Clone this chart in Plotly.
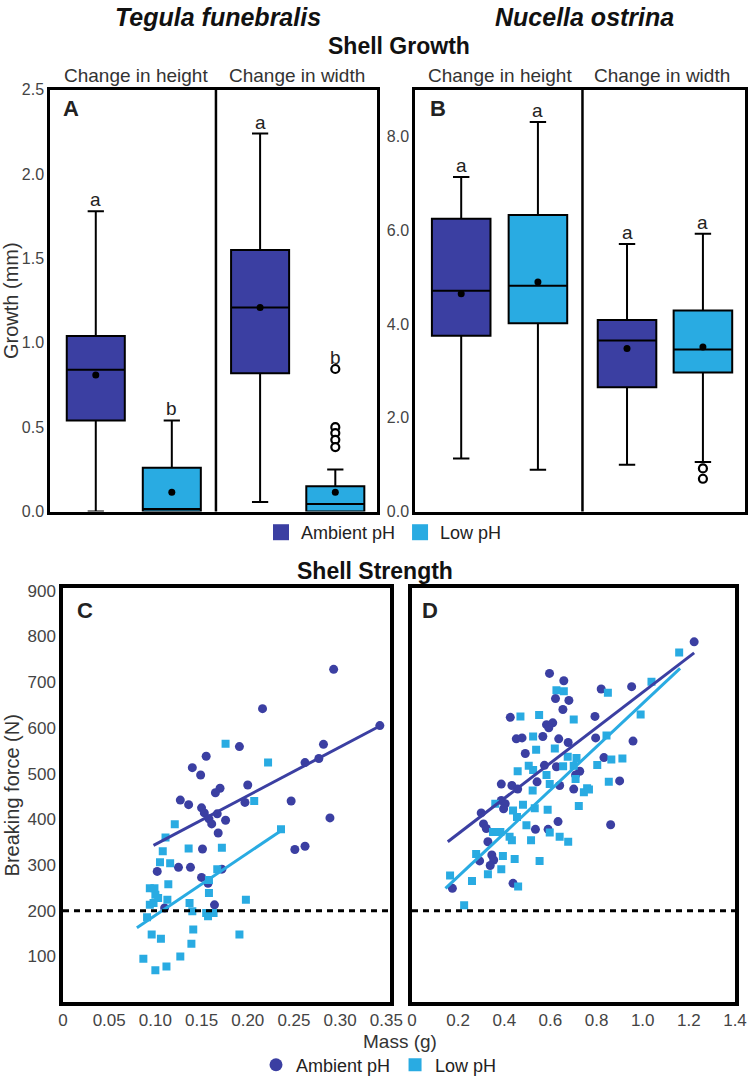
import plotly.graph_objects as go

FONT = "Liberation Sans, Arial, Helvetica, sans-serif"
DARK = "#3b3fa2"
LIGHT = "#29abe2"
TXT = "#333333"

W, H = 750, 1084

# ---------------- data ----------------
treatments = ["Ambient pH", "Low pH"]
measures = ["Change in height", "Change in width"]

# Panel A: Tegula funebralis growth (mm); order = height-ambient, height-low, width-ambient, width-low
tf_q1 = [0.54, 0.0, 0.82, 0.0]
tf_median = [0.84, 0.015, 1.21, 0.045]
tf_q3 = [1.04, 0.26, 1.55, 0.15]
tf_lower = [0.0, 0.0, 0.057, 0.0]
tf_upper = [1.78, 0.54, 2.24, 0.25]
tf_mean = [0.81, 0.114, 1.21, 0.114]
tf_letters = ["a", "b", "a", "b"]
tf_outliers_width_low = [0.845, 0.50, 0.465, 0.425, 0.382]

# Panel B: Nucella ostrina growth (mm)
no_q1 = [3.75, 4.02, 2.65, 2.97]
no_median = [4.71, 4.82, 3.65, 3.46]
no_q3 = [6.25, 6.33, 4.09, 4.29]
no_lower = [1.13, 0.89, 1.0, 1.06]
no_upper = [7.14, 8.31, 5.71, 5.93]
no_mean = [4.65, 4.90, 3.48, 3.51]
no_letters = ["a", "a", "a", "a"]
no_outliers_width_low = [0.92, 0.70]

# Panel C: Tegula funebralis breaking force (N) vs mass (g)
tf_amb_mass = [0.293, 0.216, 0.343, 0.191, 0.282, 0.155, 0.140, 0.149, 0.262, 0.277,
               0.200, 0.170, 0.165, 0.127, 0.136, 0.150, 0.153, 0.197, 0.247, 0.289,
               0.158, 0.161, 0.167, 0.176, 0.168, 0.151, 0.251, 0.262, 0.125, 0.138,
               0.102, 0.150, 0.157, 0.172, 0.164, 0.110]
tf_amb_force = [728, 642, 605, 559, 564, 538, 513, 497, 524, 533,
                475, 468, 458, 442, 432, 425, 414, 437, 440, 403,
                401, 390, 412, 398, 370, 335, 334, 341, 295, 295,
                286, 273, 260, 291, 213, 206]
tf_low_mass = [0.176, 0.222, 0.207, 0.121, 0.111, 0.236, 0.136, 0.172, 0.108, 0.105,
               0.116, 0.167, 0.158, 0.114, 0.094, 0.099, 0.100, 0.113, 0.103, 0.094,
               0.098, 0.158, 0.137, 0.140, 0.155, 0.157, 0.163, 0.198, 0.091, 0.096,
               0.106, 0.141, 0.139, 0.191, 0.087, 0.100, 0.112, 0.127]
tf_low_force = [565, 524, 440, 389, 360, 378, 336, 338, 330, 306,
                304, 291, 267, 258, 249, 249, 235, 224, 228, 213,
                217, 239, 217, 199, 195, 188, 195, 224, 186, 148,
                139, 159, 128, 148, 95, 70, 78, 100]
tf_amb_fit_mass = [0.098, 0.343]
tf_amb_fit_force = [343, 604]
tf_low_fit_mass = [0.080, 0.236]
tf_low_fit_force = [163, 375]

# Panel D: Nucella ostrina breaking force (N) vs mass (g)
no_amb_mass = [1.223, 0.596, 0.658, 0.622, 0.680, 0.654, 0.820, 0.952, 0.426, 0.793,
               0.583, 0.610, 0.593, 0.452, 0.477, 0.567, 0.636, 0.677, 0.796, 0.958,
               0.491, 0.832, 0.574, 0.626, 0.727, 0.709, 0.900, 0.387, 0.433, 0.542,
               0.640, 0.458, 0.701, 0.300, 0.387, 0.404, 0.397, 0.310, 0.322, 0.329,
               0.535, 0.590, 0.633, 0.861, 0.346, 0.354, 0.339, 0.293, 0.438, 0.175]
no_amb_force = [788, 719, 703, 664, 660, 640, 685, 690, 623, 625,
                607, 611, 600, 576, 578, 581, 576, 568, 578, 571,
                544, 535, 518, 515, 505, 497, 484, 477, 474, 482,
                474, 466, 466, 414, 441, 434, 423, 390, 380, 351,
                378, 378, 395, 388, 322, 311, 299, 309, 260, 249]
no_low_mass = [1.158, 1.038, 0.626, 0.658, 0.849, 0.470, 0.551, 0.701, 0.991, 0.525,
               0.843, 0.538, 0.619, 0.675, 0.713, 0.864, 0.912, 0.458, 0.506, 0.525,
               0.655, 0.803, 0.583, 0.701, 0.709, 0.853, 0.597, 0.759, 0.361, 0.438,
               0.481, 0.523, 0.532, 0.588, 0.723, 0.745, 0.767, 0.455, 0.496, 0.351,
               0.383, 0.423, 0.433, 0.516, 0.597, 0.640, 0.677, 0.278, 0.394, 0.445,
               0.553, 0.329, 0.387, 0.165, 0.260, 0.460, 0.226]
no_low_force = [765, 701, 682, 680, 677, 625, 628, 618, 629, 581,
                583, 552, 555, 537, 534, 531, 533, 505, 517, 508,
                516, 519, 497, 517, 488, 482, 477, 468, 434, 419,
                432, 463, 424, 421, 429, 459, 465, 405, 387, 372,
                372, 362, 354, 354, 371, 362, 351, 324, 320, 313,
                309, 280, 291, 277, 265, 253, 212]
no_amb_fit_mass = [0.155, 1.223]
no_amb_fit_force = [351, 764]
no_low_fit_mass = [0.145, 1.162]
no_low_fit_force = [249, 730]

threshold_force = 200

# -------------- layout helpers --------------
def px(x):
    return x / W


def py(y):
    return 1 - y / H


box_pos = [0.56, 1.49, 2.57, 3.49]   # box centres on the panel's 0-4 axis
divider_x = 2.03
box_w = 0.71

fig = go.Figure()


def add_box_panel(xa, ya, q1, med, q3, lo, up, mean, outliers, letters):
    for k, col in enumerate([DARK, LIGHT]):
        idx = [k, k + 2]
        fig.add_trace(go.Box(
            x=[box_pos[i] for i in idx],
            q1=[q1[i] for i in idx], median=[med[i] for i in idx], q3=[q3[i] for i in idx],
            lowerfence=[lo[i] for i in idx], upperfence=[up[i] for i in idx],
            width=box_w, whiskerwidth=0.28, fillcolor=col,
            line=dict(color="black", width=2), boxpoints=False,
            showlegend=False, xaxis=xa, yaxis=ya, hoverinfo="skip"))
    fig.add_trace(go.Scatter(
        x=box_pos, y=mean, mode="markers",
        marker=dict(color="black", size=7), showlegend=False,
        xaxis=xa, yaxis=ya, hoverinfo="skip"))
    fig.add_trace(go.Scatter(
        x=[box_pos[3]] * len(outliers), y=outliers, mode="markers",
        marker=dict(color="white", size=8, line=dict(color="black", width=2.2)),
        showlegend=False, xaxis=xa, yaxis=ya, hoverinfo="skip"))
    tops = [up[0], up[1], up[2], max([up[3]] + outliers)]
    for i in range(4):
        fig.add_annotation(x=box_pos[i], y=tops[i], xref=xa, yref=ya, text=letters[i],
                           showarrow=False, yanchor="bottom", yshift=-1,
                           font=dict(size=19, family=FONT, color="#222"))
    fig.add_shape(type="line", xref=xa, yref=ya + " domain",
                  x0=divider_x, x1=divider_x, y0=0, y1=1,
                  line=dict(color="black", width=2.5))


add_box_panel("x", "y", tf_q1, tf_median, tf_q3, tf_lower, tf_upper, tf_mean,
              tf_outliers_width_low, tf_letters)
add_box_panel("x2", "y2", no_q1, no_median, no_q3, no_lower, no_upper, no_mean,
              no_outliers_width_low, no_letters)


def add_scatter_panel(xa, ya, am, af, lm, lf, afm, aff, lfm, lff):
    fig.add_trace(go.Scatter(x=am, y=af, mode="markers",
                             marker=dict(color=DARK, size=9, symbol="circle"),
                             showlegend=False, xaxis=xa, yaxis=ya, name="Ambient pH"))
    fig.add_trace(go.Scatter(x=lm, y=lf, mode="markers",
                             marker=dict(color=LIGHT, size=8, symbol="square"),
                             showlegend=False, xaxis=xa, yaxis=ya, name="Low pH"))
    fig.add_trace(go.Scatter(x=afm, y=aff, mode="lines", line=dict(color=DARK, width=3),
                             showlegend=False, xaxis=xa, yaxis=ya, hoverinfo="skip"))
    fig.add_trace(go.Scatter(x=lfm, y=lff, mode="lines", line=dict(color=LIGHT, width=3),
                             showlegend=False, xaxis=xa, yaxis=ya, hoverinfo="skip"))
    fig.add_shape(type="line", xref=xa + " domain", yref=ya, x0=0, x1=1,
                  y0=threshold_force, y1=threshold_force,
                  line=dict(color="black", width=3, dash="6px,5px"))


add_scatter_panel("x3", "y3", tf_amb_mass, tf_amb_force, tf_low_mass, tf_low_force,
                  tf_amb_fit_mass, tf_amb_fit_force, tf_low_fit_mass, tf_low_fit_force)
add_scatter_panel("x4", "y4", no_amb_mass, no_amb_force, no_low_mass, no_low_force,
                  no_amb_fit_mass, no_amb_fit_force, no_low_fit_mass, no_low_fit_force)

# legend-only entries
for name, col in zip(treatments, [DARK, LIGHT]):
    fig.add_trace(go.Scatter(x=[None], y=[None], mode="markers", name=name,
                             marker=dict(color=col, size=16, symbol="square"),
                             legend="legend", xaxis="x", yaxis="y"))
for name, col, sym in zip(treatments, [DARK, LIGHT], ["circle", "square"]):
    fig.add_trace(go.Scatter(x=[None], y=[None], mode="markers", name=name,
                             marker=dict(color=col, size=13, symbol=sym),
                             legend="legend2", xaxis="x3", yaxis="y3"))

# -------------- axes --------------
tickfont_small = dict(size=16, family=FONT, color="#444")
tickfont_big = dict(size=17, family=FONT, color="#444")
frame_ab = dict(showline=True, mirror=True, linecolor="black", linewidth=2.5,
                showgrid=False, zeroline=False, ticks="", automargin=False, fixedrange=True)
frame_cd = dict(showline=True, mirror=True, linecolor="black", linewidth=3.5,
                showgrid=False, zeroline=False, ticks="", automargin=False, fixedrange=True)

y_ab = [py(513), py(90)]
y_cd = [py(1005), py(590)]

fig.update_layout(
    xaxis=dict(domain=[px(50), px(377)], range=[0, 4], showticklabels=False, anchor="y", **frame_ab),
    yaxis=dict(domain=y_ab, range=[0, 2.5], tickvals=[0, 0.5, 1.0, 1.5, 2.0, 2.5], tickformat=".1f",
               tickfont=tickfont_small, anchor="x",
               title=dict(text="Growth (mm)", font=dict(size=20, family=FONT, color=TXT), standoff=2),
               **frame_ab),
    xaxis2=dict(domain=[px(415), px(745)], range=[0, 4], showticklabels=False, anchor="y2", **frame_ab),
    yaxis2=dict(domain=y_ab, range=[0, 9], tickvals=[0, 2, 4, 6, 8], tickformat=".1f",
                tickfont=tickfont_small, anchor="x2", **frame_ab),
    xaxis3=dict(domain=[px(63), px(390)], range=[0, 0.354],
                tickvals=[0, 0.05, 0.10, 0.15, 0.20, 0.25, 0.30, 0.35],
                ticktext=["0", "0.05", "0.10", "0.15", "0.20", "0.25", "0.30", "0.35"],
                tickfont=tickfont_big, anchor="y3", **frame_cd),
    yaxis3=dict(domain=y_cd, range=[0, 905], tickvals=[100, 200, 300, 400, 500, 600, 700, 800, 900],
                tickfont=tickfont_big, anchor="x3",
                title=dict(text="Breaking force (N)", font=dict(size=20, family=FONT, color=TXT), standoff=3),
                **frame_cd),
    xaxis4=dict(domain=[px(412), px(735)], range=[0, 1.4],
                tickvals=[0, 0.2, 0.4, 0.6, 0.8, 1.0, 1.2, 1.4],
                ticktext=["0", "0.2", "0.4", "0.6", "0.8", "1.0", "1.2", "1.4"],
                tickfont=tickfont_big, anchor="y4", **frame_cd),
    yaxis4=dict(domain=y_cd, range=[0, 905], showticklabels=False, anchor="x4", **frame_cd),
)

# -------------- text --------------
def txt(x, y, text, size, color=TXT, bold=False, italic=False):
    t = text
    if italic:
        t = "<i>" + t + "</i>"
    if bold:
        t = "<b>" + t + "</b>"
    fig.add_annotation(x=px(x), y=py(y), xref="paper", yref="paper", text=t, showarrow=False,
                       xanchor="center", yanchor="middle",
                       font=dict(size=size, family=FONT, color=color))


txt(218, 17, "Tegula funebralis", 25, "#111", bold=True, italic=True)
txt(584, 17, "Nucella ostrina", 25, "#111", bold=True, italic=True)
txt(399, 46, "Shell Growth", 23, "#111", bold=True)
txt(375, 573, "Shell Strength", 23, "#111", bold=True)
txt(136, 76, measures[0], 19)
txt(297, 76, measures[1], 19)
txt(500, 76, measures[0], 19)
txt(662, 76, measures[1], 19)
txt(71, 109, "A", 22, "#222", bold=True)
txt(438, 109, "B", 22, "#222", bold=True)
txt(85, 612, "C", 22, "#222", bold=True)
txt(430, 612, "D", 22, "#222", bold=True)
txt(400, 1044, "Mass (g)", 19)

fig.update_layout(
    width=W, height=H, autosize=False,
    margin=dict(l=0, r=0, t=0, b=0),
    paper_bgcolor="white", plot_bgcolor="white",
    font=dict(family=FONT, color=TXT),
    legend=dict(orientation="h", x=px(384), xanchor="center", y=py(534), yanchor="middle",
                font=dict(size=18, family=FONT, color="#222"), bgcolor="rgba(0,0,0,0)",
                itemsizing="trace", itemwidth=30),
    legend2=dict(orientation="h", x=px(379), xanchor="center", y=py(1068), yanchor="middle",
                 font=dict(size=18, family=FONT, color="#222"), bgcolor="rgba(0,0,0,0)",
                 itemsizing="trace", itemwidth=30),
)

fig.write_html("out.html", config={"displayModeBar": False},
               post_script="document.body.style.margin='0';")
